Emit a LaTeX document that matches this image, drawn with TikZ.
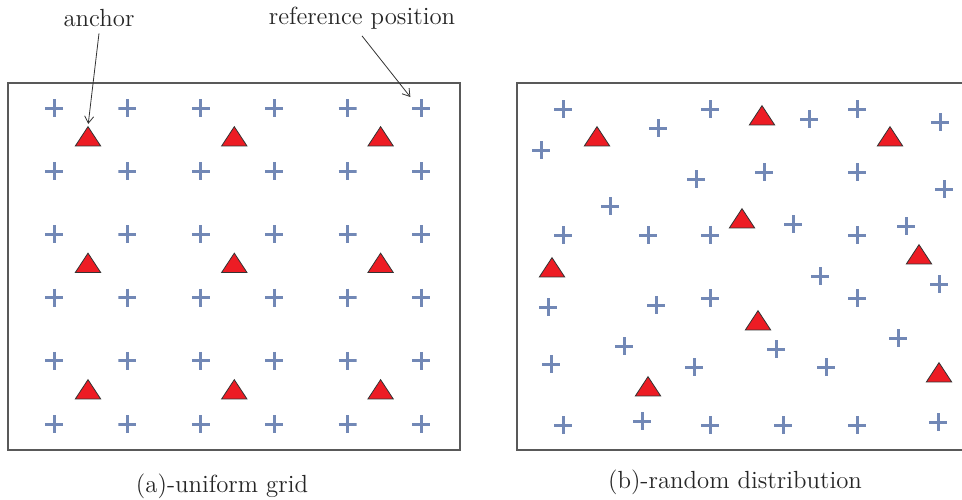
\documentclass[tikz,border=0pt]{standalone}
\usepackage{tikz}
\usetikzlibrary{shapes.geometric,arrows.meta}
\usepackage{xcolor}

\definecolor{refblue}{RGB}{114,136,182}
\definecolor{ancred}{RGB}{237,28,36}

\begin{document}
\begin{tikzpicture}[x=0.5pt,y=-0.5pt,>={Straight Barb[length=3.5pt,width=4.5pt]},
  every node/.style={font=\fontsize{12.4}{15}\selectfont,text=black!85},
  refpt/.style={inner sep=0pt,minimum size=9pt,path picture={
    \draw[refblue,line width=1.5pt] (path picture bounding box.north) -- (path picture bounding box.south)
      (path picture bounding box.west) -- (path picture bounding box.east);}},
  ancpt/.style={regular polygon,regular polygon sides=3,inner sep=0pt,minimum size=14.6pt,yscale=0.88,
    fill=ancred,draw=black!80,line width=0.4pt},
  frame/.style={draw=black!65,line width=0.6pt},
  pointer/.style={->,draw=black!80,line width=0.4pt,shorten >=1pt}]
\useasboundingbox (0,0) rectangle (962,499);

% (a) uniform grid
\draw[frame] (8,83) rectangle (460,450);
\foreach \i in {0,...,5}
  \foreach \j in {0,...,5}
    \node[refpt] (gref-\i-\j) at ({54+73.4*\i},{108+63.2*\j}) {};
\foreach \i in {0,1,2}
  \foreach \j in {0,1,2}
    \node[ancpt] (ganc-\i-\j) at ({88+146.3*\i},{139.5+126.5*\j}) {};

\node[anchor=base] (lblanc) at (99,26) {anchor};
\node[anchor=base] (lblref) at (362,24) {reference position};
\draw[pointer] (lblanc.south) -- (ganc-0-0.north);
\draw[pointer] (lblref.south) -- (gref-5-0.north west);

\node[anchor=base] (capa) at (222,492) {(a)-uniform grid};

% (b) random distribution
\draw[frame] (962,83) -- (517,83) -- (517,450) -- (962,450);
\foreach \p [count=\n] in {(563,109),(541,150),(658,128),(710,109),(809,119),(857,109),(940,122),
    (696,179),(764,172),(857,172),(944,189),
    (610,206),(563,235),(648,235),(710,235),(793,224),(857,235),(906,226),
    (820,276),(939,284),(548,307),(656,305),(710,298),(857,298),
    (624,346),(776,349),(898,338),(551,364),(694,367),(826,367),
    (563,425),(642,421),(710,425),(783,425),(857,425),(938,422)}
  \node[refpt] (rref\n) at \p {};
\foreach \p [count=\n] in {(597,139.5),(762,118.5),(890,139.5),(742,221.5),(919,257.5),
    (552,270.5),(758,323.5),(648,389.5),(939,375.5)}
  \node[ancpt] (ranc\n) at \p {};

\node[anchor=base] (capb) at (735,488) {(b)-random distribution};
\end{tikzpicture}
\end{document}
